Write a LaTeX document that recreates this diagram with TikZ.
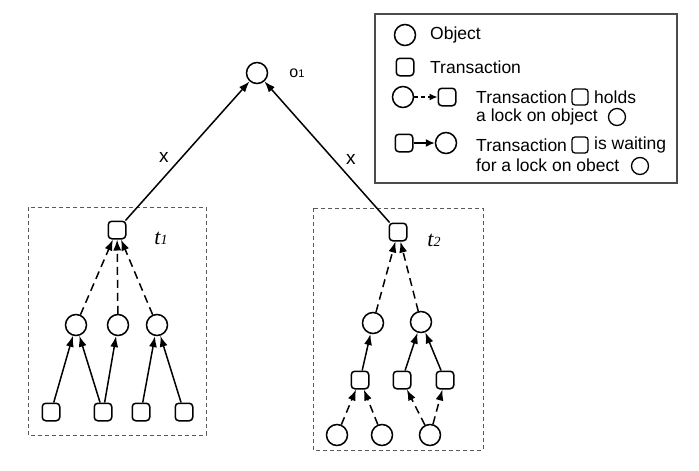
\documentclass[tikz,border=0pt]{standalone}
\usepackage{fontspec}
\setmainfont{Liberation Sans}
\newfontfamily\serifit{Liberation Serif}
\usetikzlibrary{arrows.meta}
\begin{document}
\begin{tikzpicture}[x=1pt,y=-1pt,
  obj/.style={circle, draw, line width=1.5pt, minimum size=21pt, inner sep=0pt},
  trans/.style={rectangle, rounded corners=3.5pt, draw, line width=1.5pt, minimum size=17.5pt, inner sep=0pt},
  sobj/.style={circle, draw, line width=1.3pt, minimum size=17pt, inner sep=0pt},
  strans/.style={rectangle, rounded corners=3pt, draw, line width=1.3pt, minimum size=16pt, inner sep=0pt},
  wait/.style={line width=1.5pt, -{Latex[length=11pt,width=8pt]}},
  hold/.style={line width=1.5pt, dash pattern=on 8pt off 5pt, -{Latex[length=11pt,width=8pt]}},
  frame/.style={draw=black!65, line width=0.9pt, dash pattern=on 4pt off 3pt},
  txt/.style={font=\fontsize{17.5}{20}\selectfont, inner sep=0pt, anchor=west},
  tlab/.style={font=\serifit\itshape\fontsize{22}{24}\selectfont, inner sep=0pt}
]
\useasboundingbox (0,0) rectangle (699,471);
% frames
\draw[frame] (28,207) rectangle (206,435);
\draw[frame] (313,208) rectangle (483,450);
% root
\node[obj] (o1) at (257,73) {};
\node[inner sep=0pt] (o1lab) at (297,73) {\fontsize{16}{17}\selectfont o\fontsize{11}{12}\selectfont 1};
% t1
\node[trans] (T1) at (117,230) {};
\node[tlab] (t1lab) at (161,238) {t\fontsize{14}{15}\selectfont 1};
\node[obj] (a1) at (76,325) {};
\node[obj] (a2) at (118,325) {};
\node[obj] (a3) at (157,325) {};
\node[trans] (b1) at (51,412) {};
\node[trans] (b2) at (103,412) {};
\node[trans] (b3) at (141,412) {};
\node[trans] (b4) at (184,412) {};
% t2
\node[trans] (T2) at (398,232) {};
\node[tlab] (t2lab) at (434,240) {t\fontsize{14}{15}\selectfont 2};
\node[obj] (c1) at (373,323) {};
\node[obj] (c2) at (421,322) {};
\node[trans] (d1) at (360,380) {};
\node[trans] (d2) at (402,380) {};
\node[trans] (d3) at (445,380) {};
\node[obj] (e1) at (337,435) {};
\node[obj] (e2) at (382,435) {};
\node[obj] (e3) at (430,435) {};
% top edges
\draw[wait] (T1) -- node[pos=0.45, left=12pt, font=\fontsize{19}{20}\selectfont, inner sep=0pt] (x1) {x} (o1);
\draw[wait] (T2) -- node[pos=0.45, right=12pt, font=\fontsize{19}{20}\selectfont, inner sep=0pt] (x2) {x} (o1);
% t1 edges
\draw[hold] (a1) -- (T1);
\draw[hold] (a2) -- (T1);
\draw[hold] (a3) -- (T1);
\draw[wait] (b1) -- (a1);
\draw[wait] (b2) -- (a1);
\draw[wait] (b2) -- (a2);
\draw[wait] (b3) -- (a3);
\draw[wait] (b4) -- (a3);
% t2 edges
\draw[hold] (c1) -- (T2);
\draw[hold] (c2) -- (T2);
\draw[wait] (d1) -- (c1);
\draw[wait] (d2) -- (c2);
\draw[wait] (d3) -- (c2);
\draw[hold] (e1) -- (d1);
\draw[hold] (e2) -- (d1);
\draw[hold] (e3) -- (d2);
\draw[hold] (e3) -- (d3);
% legend
\draw[draw=black!70, line width=1.1pt] (375,14) rectangle (677,183);
\node[obj] (lo) at (405,35) {};
\node[txt] (lot) at (430,35) {Object};
\node[trans] (ls) at (405,67) {};
\node[txt] (lst) at (430,67) {Transaction};
\node[obj] (lho) at (403,97) {};
\node[trans] (lhs) at (447,97) {};
\draw[line width=1.2pt, dash pattern=on 4pt off 3pt, -{Latex[length=8pt,width=7pt]}] (lho) -- (lhs);
\node[txt] (lh1) at (476,97) {Transaction};
\node[strans] (lh1s) at (580,97) {};
\node[txt] (lh1b) at (594,97) {holds};
\node[txt] (lh2) at (476,117) {a lock on object};
\node[sobj] (lh2o) at (617,117) {};
\node[trans] (lws) at (404,143) {};
\node[obj] (lwo) at (446,143) {};
\draw[line width=1.5pt, -{Latex[length=9pt,width=8pt]}] (lws) -- (lwo);
\node[txt] (lw1) at (476,145) {Transaction};
\node[strans] (lw1s) at (580,145) {};
\node[txt] (lw1b) at (594,145) {is waiting};
\node[txt] (lw2) at (476,165) {for a lock on obect};
\node[sobj] (lw2o) at (640,166) {};
\end{tikzpicture}
\end{document}
